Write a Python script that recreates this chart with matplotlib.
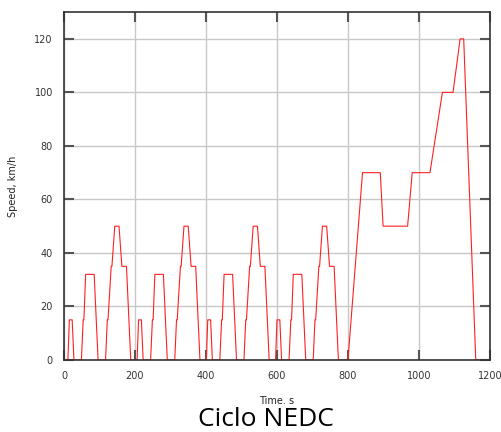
import matplotlib.pyplot as plt

# Ciclo NEDC: 4 x ECE-15 (urbano) + EUDC (extra-urbano)
urban_time = [0, 11, 15, 23, 28, 49, 54, 56, 61, 85, 96, 117, 122, 124, 133, 135, 143, 155, 163, 176, 188,
              206, 210, 218, 223, 244, 249, 251, 256, 280, 291, 312, 317, 319, 328, 330, 338, 350, 358, 371, 383,
              401, 405, 413, 418, 439, 444, 446, 451, 475, 486, 507, 512, 514, 523, 525, 533, 545, 553, 566, 578,
              596, 600, 608, 613, 634, 639, 641, 646, 670, 681, 702, 707, 709, 718, 720, 728, 740, 748, 761, 773]
urban_speed = [0, 0, 15, 15, 0, 0, 15, 15, 32, 32, 0, 0, 15, 15, 35, 35, 50, 50, 35, 35, 0,
               0, 15, 15, 0, 0, 15, 15, 32, 32, 0, 0, 15, 15, 35, 35, 50, 50, 35, 35, 0,
               0, 15, 15, 0, 0, 15, 15, 32, 32, 0, 0, 15, 15, 35, 35, 50, 50, 35, 35, 0,
               0, 15, 15, 0, 0, 15, 15, 32, 32, 0, 0, 15, 15, 35, 35, 50, 50, 35, 35, 0]
eudc_time = [800, 841, 891, 899, 968, 981, 1031, 1066, 1096, 1116, 1126, 1160, 1180]
eudc_speed = [0, 70, 70, 50, 50, 70, 70, 100, 100, 120, 120, 0, 0]

fig = plt.figure(figsize=(5.02, 4.32), dpi=100)
ax = fig.add_axes([0.1275, 0.1667, 0.8485, 0.8053])

ax.plot(urban_time + eudc_time, urban_speed + eudc_speed, color="#ff2020", lw=0.8)

ax.set_xlim(0, 1200)
ax.set_ylim(0, 130)
ax.set_xticks(range(0, 1201, 200))
ax.set_yticks(range(0, 121, 20))
ax.grid(True, color="#c8c8c8", lw=1)
ax.tick_params(direction="in", top=True, right=True, length=7, width=1.5, color="#555555",
               labelsize=7, labelcolor="#333333", pad=8)
for s in ax.spines.values():
    s.set_linewidth(1.2)
    s.set_color("#333333")

ax.set_xlabel("Time. s", fontsize=7, labelpad=11, color="#222222")
ax.set_ylabel("Speed, km/h", fontsize=7, labelpad=12, color="#222222")

fig.text(0.53, 0.0, "Ciclo NEDC", fontsize=19, family="Open Sans", ha="center", va="bottom")

fig.savefig("out.png", dpi=100)
